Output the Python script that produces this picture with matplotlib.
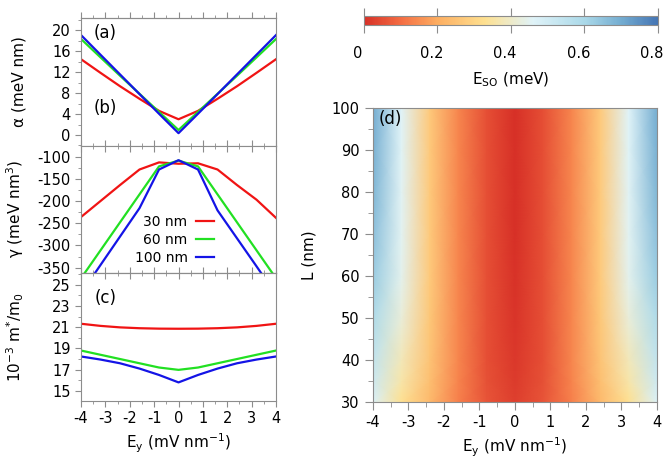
import numpy as np
import matplotlib.pyplot as plt
from matplotlib.colors import LinearSegmentedColormap
from matplotlib.ticker import MultipleLocator, FormatStrFormatter
from matplotlib.transforms import ScaledTranslation

plt.rcParams['font.family'] = ['DejaVu Sans']
plt.rcParams['mathtext.default'] = 'regular'
plt.rcParams['axes.unicode_minus'] = False

# Field values (mV/nm) where the curves are sampled
ey = [-4, -3.2, -2.4, -1.6, -0.8, 0, 0.8, 1.6, 2.4, 3.2, 4]

# (a) Rashba coefficient alpha (meV nm)
alpha_30 = [14.45, 11.85, 9.3, 6.9, 4.6, 3.0, 4.6, 6.9, 9.3, 11.85, 14.45]
alpha_60 = [18.3, 14.8, 11.3, 7.85, 4.4, 0.95, 4.4, 7.85, 11.3, 14.8, 18.3]
alpha_100 = [19.05, 15.3, 11.55, 7.8, 4.05, 0.35, 4.05, 7.8, 11.55, 15.3, 19.05]

# (b) gamma (meV nm^3)
gamma_30 = [-236, -200, -164, -129, -113, -116, -115, -129, -164, -197, -238]
gamma_60 = [-374, -311, -248, -185, -122, -109, -122, -185, -248, -311, -374]
gamma_100 = [-408, -344, -280, -216, -129, -108, -129, -221, -284, -347, -411]

# (c) effective mass, 10^-3 m*/m0
mstar_30 = [21.32, 21.12, 20.98, 20.9, 20.86, 20.85, 20.86, 20.9, 20.98, 21.12, 21.32]
mstar_60 = [18.8, 18.4, 18.0, 17.6, 17.2, 16.98, 17.2, 17.6, 18.0, 18.4, 18.8]
mstar_100 = [18.24, 17.95, 17.6, 17.1, 16.5, 15.8, 16.5, 17.1, 17.6, 17.95, 18.24]

labels = ['30 nm', '60 nm', '100 nm']
colors = ['#f01414', '#22e022', '#1414e6']

# (d) E_SO map (meV) on an L x Ey grid
L_grid = [30, 35, 40, 50, 60, 70, 80, 90, 100]
eso = [
    [0.470, 0.330, 0.230, 0.130, 0.060, 0.025, 0.060, 0.130, 0.230, 0.330, 0.470],
    [0.510, 0.360, 0.245, 0.135, 0.056, 0.020, 0.056, 0.135, 0.245, 0.360, 0.510],
    [0.540, 0.380, 0.255, 0.138, 0.053, 0.015, 0.053, 0.138, 0.255, 0.380, 0.540],
    [0.590, 0.420, 0.265, 0.140, 0.051, 0.008, 0.051, 0.140, 0.265, 0.420, 0.590],
    [0.630, 0.445, 0.270, 0.140, 0.050, 0.004, 0.050, 0.140, 0.270, 0.445, 0.630],
    [0.655, 0.450, 0.270, 0.140, 0.050, 0.002, 0.050, 0.140, 0.270, 0.450, 0.655],
    [0.675, 0.455, 0.270, 0.140, 0.050, 0.001, 0.050, 0.140, 0.270, 0.455, 0.675],
    [0.690, 0.458, 0.270, 0.140, 0.050, 0.000, 0.050, 0.140, 0.270, 0.458, 0.690],
    [0.700, 0.460, 0.270, 0.140, 0.050, 0.000, 0.050, 0.140, 0.270, 0.460, 0.700],
]

spine_col = '#8c8c8c'
tick_fs = 10.5
label_fs = 11

fig = plt.figure(figsize=(6.64, 4.68), dpi=100)
ax_a = fig.add_axes([0.122, 0.688, 0.2937, 0.2735])
ax_b = fig.add_axes([0.122, 0.4167, 0.2937, 0.2714])
ax_c = fig.add_axes([0.122, 0.1432, 0.2937, 0.2735])
ax_d = fig.add_axes([0.5617, 0.141, 0.4277, 0.628])
cax = fig.add_axes([0.548, 0.9466, 0.443, 0.0192])


def style_axes(ax):
    for sp in ax.spines.values():
        sp.set_color(spine_col)
    ax.tick_params(which='both', color=spine_col, labelsize=tick_fs, labelcolor='black')
    ax.tick_params(axis='y', which='both', direction='out', right=False)
    ax.tick_params(axis='y', which='major', length=4)
    ax.tick_params(axis='y', which='minor', length=2.5)
    ax.tick_params(axis='x', which='major', length=4)
    ax.tick_params(axis='x', which='minor', length=2.5)
    ax.xaxis.set_major_locator(MultipleLocator(1))
    ax.xaxis.set_minor_locator(MultipleLocator(0.5))
    ax.set_xlim(-4, 4)


def top_ticks(ax, direction):
    sec = ax.secondary_xaxis('top')
    sec.xaxis.set_major_locator(MultipleLocator(1))
    sec.xaxis.set_minor_locator(MultipleLocator(0.5))
    sec.tick_params(which='both', direction=direction, color=spine_col, labeltop=False)
    sec.tick_params(which='major', length=4)
    sec.tick_params(which='minor', length=2.5)
    sec.spines['top'].set_color(spine_col)


# Panel (a)
for y, c in zip([alpha_30, alpha_60, alpha_100], colors):
    ax_a.plot(ey, y, color=c, lw=1.6)
style_axes(ax_a)
ax_a.set_ylim(-2.1, 22.3)
ax_a.yaxis.set_major_locator(MultipleLocator(4))
ax_a.yaxis.set_minor_locator(MultipleLocator(2))
ax_a.tick_params(axis='x', which='both', direction='in', top=False, labelbottom=False)
top_ticks(ax_a, 'out')
ax_a.set_ylabel('α (meV nm)', fontsize=label_fs)
ax_a.text(0.067, 0.883, '(a)', transform=ax_a.transAxes, fontsize=12, va='center')
ax_a.text(0.067, 0.297, '(b)', transform=ax_a.transAxes, fontsize=12, va='center')

# Panel (b)
lines = []
for y, c in zip([gamma_30, gamma_60, gamma_100], colors):
    ln, = ax_b.plot(ey, y, color=c, lw=1.6)
    lines.append(ln)
style_axes(ax_b)
ax_b.set_ylim(-362, -76)
ax_b.yaxis.set_major_locator(MultipleLocator(50))
ax_b.yaxis.set_minor_locator(MultipleLocator(25))
ax_b.tick_params(axis='x', which='both', direction='in', top=True, labelbottom=False)
ax_b.set_ylabel('γ (meV nm$^3$)', fontsize=label_fs)
ax_b.legend(lines, labels, loc='lower right', bbox_to_anchor=(0.71, 0.02),
            frameon=False, markerfirst=False, fontsize=10, handlelength=1.3,
            labelspacing=0.3, handletextpad=0.6, borderaxespad=0)

# Panel (c)
for y, c in zip([mstar_30, mstar_60, mstar_100], colors):
    ax_c.plot(ey, y, color=c, lw=1.6)
style_axes(ax_c)
ax_c.set_ylim(14.05, 26.1)
ax_c.yaxis.set_minor_locator(MultipleLocator(1))
ax_c.set_yticks([15, 17, 19, 21, 23, 25])
ax_c.tick_params(axis='x', which='both', direction='out', top=False)
top_ticks(ax_c, 'in')
ax_c.set_ylabel('10$^{-3}$ m$^{*}$/m$_0$', fontsize=label_fs)
ax_c.set_xlabel('E$_y$ (mV nm$^{-1}$)', fontsize=label_fs)
ax_c.text(0.072, 0.805, '(c)', transform=ax_c.transAxes, fontsize=12, va='center')

for ax in (ax_a, ax_b, ax_c):
    ax.yaxis.set_label_coords(-0.28, 0.5)

# Panel (d)
cmap = LinearSegmentedColormap.from_list(
    'eso', [(0.0, '#d73027'), (0.125, '#f46d43'), (0.25, '#fdae61'),
            (0.41, '#fee090'), (0.575, '#e0f3f8'), (0.75, '#abd9e9'),
            (0.875, '#74add1'), (1.0, '#4575b4')])
mesh = ax_d.pcolormesh(ey, L_grid, np.array(eso), cmap=cmap, vmin=0, vmax=0.8,
                       shading='gouraud')
style_axes(ax_d)
ax_d.set_ylim(30, 100)
ax_d.yaxis.set_major_locator(MultipleLocator(10))
ax_d.yaxis.set_minor_locator(MultipleLocator(5))
ax_d.tick_params(axis='x', which='both', direction='out', top=False)
ax_d.tick_params(axis='x', which='major', length=6)
ax_d.tick_params(axis='x', which='minor', length=3.5)
ax_d.tick_params(axis='y', which='major', length=6)
ax_d.tick_params(axis='y', which='minor', length=3.5)
ax_d.set_xlabel('E$_y$ (mV nm$^{-1}$)', fontsize=label_fs)
ax_d.set_ylabel('L (nm)', fontsize=label_fs)
ax_d.yaxis.set_label_coords(-0.2, 0.5)
ax_d.text(0.021, 0.963, '(d)', transform=ax_d.transAxes, fontsize=12, va='center')

# Colorbar
cb = fig.colorbar(mesh, cax=cax, orientation='horizontal')
cb.set_ticks([0, 0.2, 0.4, 0.6, 0.8])
cb.ax.xaxis.set_major_formatter(FormatStrFormatter('%g'))
cb.outline.set_edgecolor(spine_col)
cb.ax.tick_params(top=True, bottom=True, direction='out', length=6,
                  color=spine_col, labelsize=tick_fs, pad=9)
cb.ax.minorticks_off()
cb.set_label('E$_{SO}$ (meV)', fontsize=label_fs, labelpad=7)
shift = ScaledTranslation(-0.06, 0, fig.dpi_scale_trans)
for tk in cb.ax.xaxis.get_major_ticks():
    tk.label1.set_transform(tk.label1.get_transform() + shift)

fig.savefig('out.png', dpi=100)
